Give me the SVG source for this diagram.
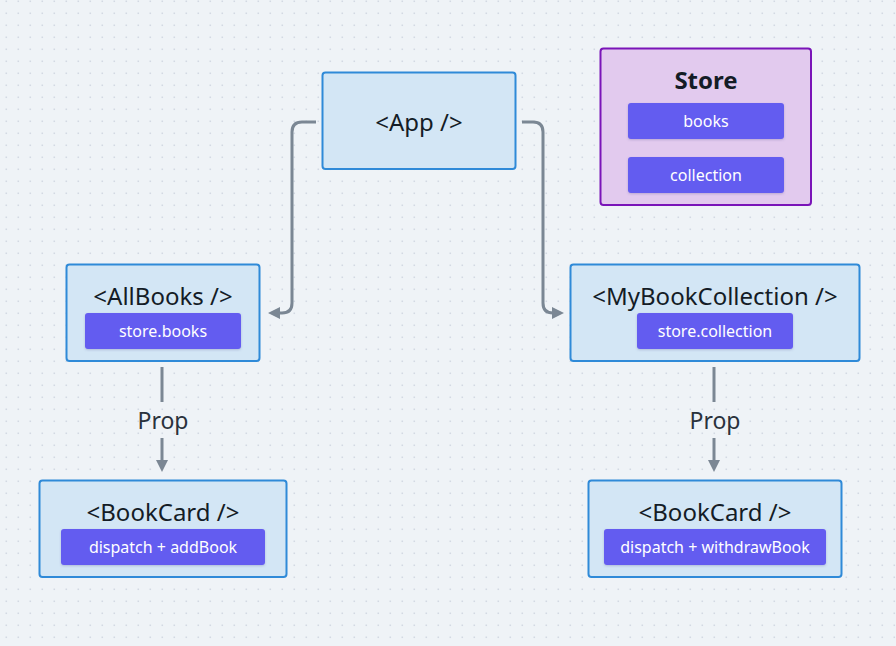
<svg xmlns="http://www.w3.org/2000/svg" width="896" height="646" viewBox="0 0 896 646">
<defs>
<pattern id="dots" x="0" y="0" width="12" height="12" patternUnits="userSpaceOnUse">
<rect x="5.5" y="0.5" width="1.6" height="1.6" fill="#d3d9e3"/>
</pattern>
<marker id="arr" viewBox="0 0 10 10" refX="5" refY="5" markerWidth="4" markerHeight="4" orient="auto-start-reverse" markerUnits="strokeWidth">
<path d="M0,0 L10,5 L0,10 z" fill="#7b8794"/>
</marker>
<filter id="sh" x="-10%" y="-20%" width="120%" height="150%">
<feDropShadow dx="0" dy="1" stdDeviation="1.2" flood-color="#3a3a80" flood-opacity="0.25"/>
</filter>
</defs>
<style>
.bg{fill:#eff3f7}
.node{fill:#d3e6f5;stroke:#2f8ad8;stroke-width:2}
.store{fill:#e2caee;stroke:#7a14b8;stroke-width:2}
.chip{fill:#635bf0;filter:url(#sh)}
.title{font-family:"Noto Sans","DejaVu Sans",sans-serif;font-size:24px;fill:#141c26;text-anchor:middle}
.bold{font-weight:bold}
.ct{font-family:"Noto Sans","DejaVu Sans",sans-serif;font-size:16px;fill:#ffffff;text-anchor:middle}
.lbl{font-family:"Noto Sans","DejaVu Sans",sans-serif;font-size:23px;fill:#2a323c;text-anchor:middle}
.edge{fill:none;stroke:#7b8794;stroke-width:3}
</style>
<rect class="bg" width="896" height="646"/>
<rect width="896" height="646" fill="url(#dots)"/>

<g id="connectors">
<path class="edge" d="M316,122 H302 Q292,122 292,132 V303 Q292,313 282,313 H274" marker-end="url(#arr)"/>
<path class="edge" d="M522,122 H533 Q543,122 543,132 V303 Q543,313 553,313 H558" marker-end="url(#arr)"/>
<path class="edge" d="M162,367 V402"/>
<path class="edge" d="M162,438 V466" marker-end="url(#arr)"/>
<text class="lbl" x="163" y="429">Prop</text>
<path class="edge" d="M714,367 V402"/>
<path class="edge" d="M714,438 V466" marker-end="url(#arr)"/>
<text class="lbl" x="715" y="429">Prop</text>
</g>

<g id="app">
<rect class="node" x="322.5" y="72.5" width="193" height="96.5" rx="3"/>
<text class="title" x="419" y="131">&lt;App /&gt;</text>
</g>

<g id="store">
<rect class="store" x="600.5" y="48.5" width="210.5" height="156.5" rx="3"/>
<text class="title bold" x="706" y="89">Store</text>
<rect class="chip" x="628" y="103" width="156" height="36" rx="3"/>
<text class="ct" x="706" y="127">books</text>
<rect class="chip" x="628" y="157" width="156" height="36" rx="3"/>
<text class="ct" x="706" y="181">collection</text>
</g>

<g id="allbooks">
<rect class="node" x="66.5" y="264.5" width="193" height="96.5" rx="3"/>
<text class="title" x="163" y="305">&lt;AllBooks /&gt;</text>
<rect class="chip" x="85" y="313" width="156" height="36" rx="3"/>
<text class="ct" x="163" y="337">store.books</text>
</g>

<g id="mybookcollection">
<rect class="node" x="570.5" y="264.5" width="289" height="96.5" rx="3"/>
<text class="title" x="715" y="305">&lt;MyBookCollection /&gt;</text>
<rect class="chip" x="637" y="313" width="156" height="36" rx="3"/>
<text class="ct" x="715" y="337">store.collection</text>
</g>

<g id="bookcard-left">
<rect class="node" x="39.5" y="480.5" width="247" height="96.5" rx="3"/>
<text class="title" x="163" y="521">&lt;BookCard /&gt;</text>
<rect class="chip" x="61" y="529" width="204" height="36" rx="3"/>
<text class="ct" x="163" y="553">dispatch + addBook</text>
</g>

<g id="bookcard-right">
<rect class="node" x="588.5" y="480.5" width="253" height="96.5" rx="3"/>
<text class="title" x="715" y="521">&lt;BookCard /&gt;</text>
<rect class="chip" x="604" y="529" width="222" height="36" rx="3"/>
<text class="ct" x="715" y="553">dispatch + withdrawBook</text>
</g>
</svg>
